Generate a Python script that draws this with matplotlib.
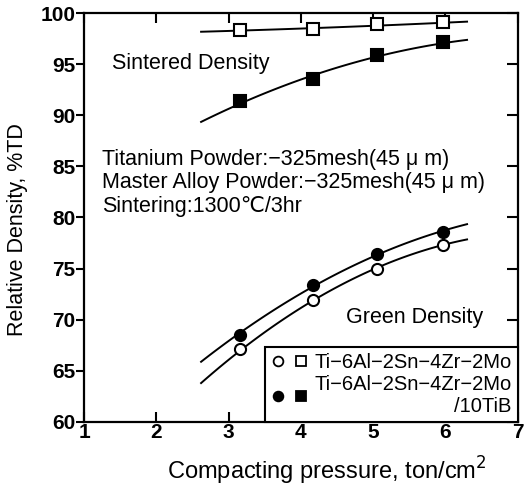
import numpy as np
import matplotlib
matplotlib.use("Agg")
import matplotlib.pyplot as plt
from matplotlib.lines import Line2D
from matplotlib.legend_handler import HandlerTuple

plt.rcParams['font.family'] = ['Liberation Sans', 'DejaVu Sans']
plt.rcParams['font.size'] = 15

# compacting pressure, ton/cm2
pressure = [3.16, 4.17, 5.06, 5.97]
# relative density, %TD
sintered_base = [98.3, 98.4, 98.9, 99.1]
sintered_tib = [91.4, 93.6, 95.9, 97.2]
green_base = [67.1, 71.9, 75.0, 77.3]
green_tib = [68.5, 73.35, 76.4, 78.6]

# ends of the fitted curves
curve_x = [2.62, 6.3]
curve_sintered_base = [98.2, 99.1]
curve_sintered_tib = [89.25, 97.25]
curve_green_base = [63.7, 77.9]
curve_green_tib = [66.0, 79.4]

fig = plt.figure(figsize=(5.25, 4.86), dpi=100)
ax = fig.add_axes([0.160, 0.132, 0.826, 0.841])


def fit_curve(ys, ends):
    xs = [curve_x[0]] + pressure + [curve_x[1]]
    yy = [ends[0]] + ys + [ends[1]]
    c = np.polyfit(xs, yy, 2)
    xx = np.linspace(curve_x[0], curve_x[1], 100)
    return xx, np.polyval(c, xx)


for ys, ends in [(sintered_base, curve_sintered_base), (sintered_tib, curve_sintered_tib),
                 (green_base, curve_green_base), (green_tib, curve_green_tib)]:
    xx, yy = fit_curve(ys, ends)
    ax.plot(xx, yy, color='black', lw=1.4, zorder=2)

ms = 8
ax.plot(pressure, sintered_base, 's', ms=ms, mfc='white', mec='black', mew=1.5, zorder=3)
ax.plot(pressure, sintered_tib, 's', ms=ms, mfc='black', mec='black', mew=1.5, zorder=3)
ax.plot(pressure, green_base, 'o', ms=ms, mfc='white', mec='black', mew=1.5, zorder=3)
ax.plot(pressure, green_tib, 'o', ms=ms, mfc='black', mec='black', mew=1.5, zorder=3)

ax.set_xlim(1, 7)
ax.set_ylim(60, 100)
ax.set_xticks(range(1, 8))
ax.set_yticks(range(60, 101, 5))
for lab in ax.get_xticklabels() + ax.get_yticklabels():
    lab.set_fontweight('bold')
    lab.set_fontsize(15)
ax.tick_params(axis='x', direction='in', top=True, length=7, width=1.5, pad=1)
ax.tick_params(axis='y', direction='out', length=6, width=1.5, pad=0)
ax.tick_params(axis='y', which='both', right=True)
for t in ax.yaxis.get_ticklines()[1::2]:
    t.set_marker(0)
    t.set_markersize(8)
for s in ax.spines.values():
    s.set_linewidth(1.6)

ax.set_ylabel('Relative Density, %TD', fontsize=15.5)
ax.yaxis.set_label_coords(-0.128, 0.47)
ax.set_xlabel('Compacting pressure, ton/cm$^2$', fontsize=17)
ax.xaxis.set_label_coords(0.56, -0.08)

ax.text(1.39, 95.1, 'Sintered Density', fontsize=15.5, va='center')
ax.text(4.62, 70.2, 'Green Density', fontsize=15.5, va='center')
ax.text(1.25, 83.4, 'Titanium Powder:\u2212325mesh(45 \u03bc m)\n'
                    'Master Alloy Powder:\u2212325mesh(45 \u03bc m)\n'
                    'Sintering:1300\u2103/3hr',
        fontsize=15.5, va='center', linespacing=1.15)

h1 = (Line2D([], [], marker='o', ls='none', ms=7, mfc='white', mec='black', mew=1.3),
      Line2D([], [], marker='s', ls='none', ms=7, mfc='white', mec='black', mew=1.3))
h2 = (Line2D([], [], marker='o', ls='none', ms=7, mfc='black', mec='black', mew=1.3),
      Line2D([], [], marker='s', ls='none', ms=7, mfc='black', mec='black', mew=1.3))
leg = ax.legend([h1, h2], ['Ti\u22126Al\u22122Sn\u22124Zr\u22122Mo', 'Ti\u22126Al\u22122Sn\u22124Zr\u22122Mo\n/10TiB'],
                handler_map={tuple: HandlerTuple(ndivide=None, pad=0.5)},
                loc='lower right', borderaxespad=0, fancybox=False, edgecolor='black',
                framealpha=1, fontsize=14.5, handlelength=1.8, handletextpad=0.35,
                labelspacing=0.15, borderpad=0.3)
leg.get_frame().set_linewidth(1.5)
leg.get_texts()[1].set_multialignment('right')

fig.savefig('out.png', dpi=100)
